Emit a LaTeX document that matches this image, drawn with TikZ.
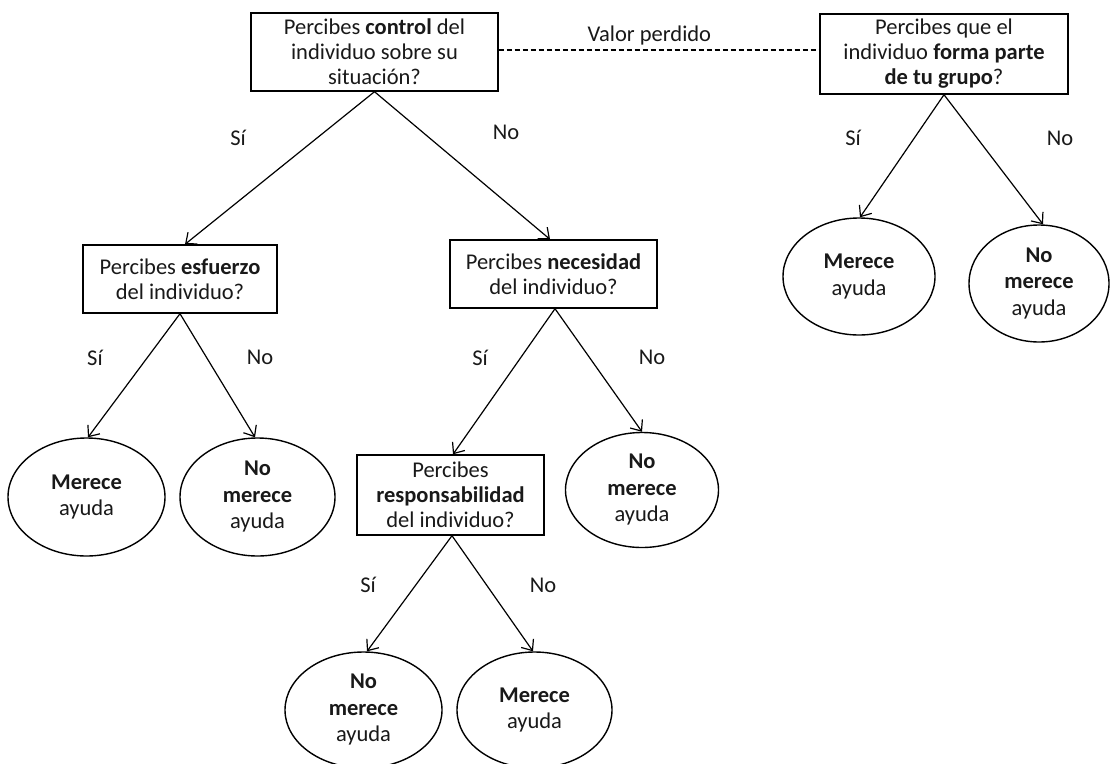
\documentclass[tikz,border=0pt]{standalone}
\usepackage{fontspec}
\setmainfont{Carlito}
\usetikzlibrary{arrows.meta,shapes.geometric,calc}
\begin{document}
\begin{tikzpicture}[x=1pt,y=-1pt,
  txt/.style={font=\fontsize{22.5}{25}\selectfont, text=black!90},
  box/.style={txt,draw,line width=1.4pt,align=center,inner sep=0pt},
  oval/.style={draw,ellipse,line width=1.4pt,align=center,inner sep=0pt,
    font=\fontsize{22.5}{26.5}\selectfont, text=black!90},
  lab/.style={txt},
  arr/.style={-{Straight Barb[length=9pt,width=15pt,line width=1.2pt]},line width=1.2pt}]
\useasboundingbox (0,0) rectangle (1111,763);
\fill[white] (0,0) rectangle (1111,763);

% question boxes
\node[box,minimum width=247pt,minimum height=78pt] (ctrl) at (374.5,52)
  {Percibes \textbf{control} del\\individuo sobre su\\situación?};
\node[box,minimum width=248pt,minimum height=80pt] (grp) at (944,54)
  {Percibes que el\\individuo \textbf{forma parte}\\\textbf{de tu grupo}?};
\node[box,minimum width=194pt,minimum height=68pt] (esf) at (180,279)
  {Percibes \textbf{esfuerzo}\\del individuo?};
\node[box,minimum width=207pt,minimum height=68pt] (nec) at (553.5,274)
  {Percibes \textbf{necesidad}\\del individuo?};
\node[box,minimum width=187pt,minimum height=80pt] (resp) at (450.5,495)
  {Percibes\\\textbf{responsabilidad}\\del individuo?};

% outcome ellipses
\node[oval,minimum width=157pt,minimum height=118pt] (m1) at (86.5,497)
  {\textbf{Merece}\\ayuda};
\node[oval,minimum width=155pt,minimum height=118pt] (n1) at (257.5,497)
  {\textbf{No}\\\textbf{merece}\\ayuda};
\node[oval,minimum width=153pt,minimum height=115pt] (n2) at (642,490)
  {\textbf{No}\\\textbf{merece}\\ayuda};
\node[oval,minimum width=157pt,minimum height=116pt] (n3) at (363.5,710)
  {\textbf{No}\\\textbf{merece}\\ayuda};
\node[oval,minimum width=155pt,minimum height=116pt] (m3) at (534.5,710)
  {\textbf{Merece}\\ayuda};
\node[oval,minimum width=152pt,minimum height=117pt] (m4) at (859,276.5)
  {\textbf{Merece}\\ayuda};
\node[oval,minimum width=140pt,minimum height=117pt] (n4) at (1039,283.5)
  {\textbf{No}\\\textbf{merece}\\ayuda};

% dashed link
\draw[line width=1.1pt,dash pattern=on 5pt off 3pt] (ctrl.east |- 0,50) -- (grp.west |- 0,50)
  node[lab,pos=0.47,above=1pt] (vp) {Valor perdido};

% connectors
\draw[arr] (ctrl.south) -- ($(esf.north)+(5,0)$);
\draw[arr] (ctrl.south) -- ($(nec.north)+(-3.5,0)$);
\draw[arr] (grp.south) -- ($(m4.north)+(1,0)$);
\draw[arr] (grp.south) -- ($(n4.north)+(4,0)$);
\draw[arr] (esf.south) -- ($(m1.north)+(1.5,0)$);
\draw[arr] (esf.south) -- ($(n1.north)+(-2.5,0)$);
\draw[arr] ($(nec.south)+(1.5,0)$) -- ($(resp.north)+(2.5,0)$);
\draw[arr] ($(nec.south)+(1.5,0)$) -- (n2.north);
\draw[arr] ($(resp.south)+(1.5,0)$) -- ($(n3.north)+(3.5,0)$);
\draw[arr] ($(resp.south)+(1.5,0)$) -- ($(m3.north)+(-1.5,0)$);

% branch labels
\node[lab] (s1) at (238,138) {Sí};
\node[lab] (o1) at (506,132) {No};
\node[lab] (s2) at (853,138) {Sí};
\node[lab] (o2) at (1060,138) {No};
\node[lab] (s3) at (95,358) {Sí};
\node[lab] (o3) at (260,357) {No};
\node[lab] (s4) at (480,358) {Sí};
\node[lab] (o4) at (652,357) {No};
\node[lab] (s5) at (368,585) {Sí};
\node[lab] (o5) at (543,585) {No};
\end{tikzpicture}
\end{document}
